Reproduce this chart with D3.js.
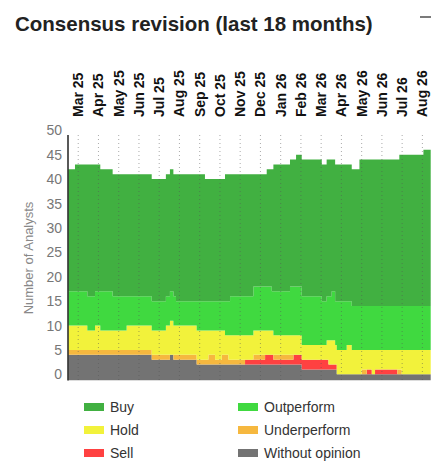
<!DOCTYPE html>
<html><head><meta charset="utf-8">
<script src="https://cdn.jsdelivr.net/npm/d3@7"></script>
<style>body{margin:0;background:#fff}svg{font-family:Arial,"Liberation Sans",sans-serif}</style>
</head><body><svg id="c" width="443" height="475"></svg>
<script>
const months=["Mar 25","Apr 25","May 25","Jun 25","Jul 25","Aug 25","Sep 25","Oct 25","Nov 25","Dec 25","Jan 26","Feb 26","Mar 26","Apr 26","May 26","Jun 26","Jul 26","Aug 26"];
const yTicks=[0,5,10,15,20,25,30,35,40,45,50];
// breakpoints in months since Mar 25 (step changes)
const t=[-0.49,-0.16,0.45,0.83,1.09,1.70,2.39,3.63,4.33,4.53,4.70,4.83,5.85,6.26,6.43,6.76,7.09,7.25,7.42,7.50,8.24,8.65,9.23,9.31,9.56,9.64,10.46,10.63,10.76,11.04,12.03,12.27,12.36,12.52,12.69,12.77,13.26,13.51,13.89,14.00,14.25,14.50,14.66,15.76,15.86,15.98,17.05,17.41];
const withoutOpinion=[4,4,4,4,4,4,4,3,3,4,3,3,2,2,2,2,2,2,2,2,2,2,2,2,2,2,2,2,2,1,1,1,1,1,1,0,0,0,0,0,0,0,0,0,0,0,0,0];
const sell=[0,0,0,0,0,0,0,0,0,0,0,0,0,0,0,0,0,0,0,0,1,1,2,2,2,1,1,2,2,2,2,2,1,1,1,0,0,0,0,0,1,0,1,0,0,0,0,0];
const underperform=[1,1,1,1,1,1,1,1,1,0,1,1,1,1,2,1,2,2,1,1,0,1,0,0,0,1,1,0,0,0,0,0,0,0,0,0,0,0,0,1,0,0,0,1,1,0,0,0];
const hold=[5,5,4,5,4,4,5,5,6,7,6,6,6,6,5,6,5,4,5,5,5,5,5,5,5,4,4,4,4,3,3,4,5,5,4,5,6,5,5,4,4,5,4,4,4,5,5,5];
const outperform=[7,7,7,7,8,7,6,6,6,6,6,5,6,6,6,6,6,7,7,8,8,9,9,9,8,9,10,10,10,10,9,9,9,10,9,10,9,9,9,9,9,9,9,9,9,9,9,9];
const buy=[25,26,27,26,25,25,25,25,25,25,25,26,26,25,25,25,25,26,26,25,25,23,23,24,25,26,26,26,27,28,28,28,28,27,28,28,28,28,30,30,30,30,30,30,31,31,32,32];
const seriesNames=["Without opinion","Sell","Underperform","Hold","Outperform","Buy"];
const seriesVals=[withoutOpinion,sell,underperform,hold,outperform,buy];
const colors=["#737373","#ff4141","#f6b83f","#f2f23b","#40d940","#41b041"];

const svg=d3.select("#c");
const x=d3.scaleLinear().domain([-0.49,17.41]).range([68.3,430.7]);
const y=d3.scaleLinear().domain([-1.2,50]).range([380.2,130.3]);
const rows=t.map((tt,i)=>{const r={t:tt};seriesNames.forEach((n,k)=>r[n]=seriesVals[k][i]);return r;});
const stacked=d3.stack().keys(seriesNames)(rows);
const area2=d3.area().curve(d3.curveStepAfter).x(d=>x(d.data.t)).y0(d=>y(d[0])).y1(d=>y(d[1]));
stacked.forEach((s,k)=>{
  svg.append("path").datum(s).attr("fill",colors[k]).attr("d",k===0?d3.area().curve(d3.curveStepAfter).x(d=>x(d.data.t)).y0(y(-1.2)).y1(d=>y(d[1]))(s):area2(s));
});
months.forEach((m,i)=>{
  svg.append("line").attr("x1",x(i)).attr("x2",x(i)).attr("y1",135).attr("y2",380)
   .attr("stroke","#555").attr("stroke-opacity",0.5).attr("stroke-dasharray","1,3");
  svg.append("text").attr("transform",`translate(${x(i)+5},117) rotate(-90)`)
   .attr("font-size",14).attr("font-weight","bold").attr("fill","#111").text(m);
});
svg.append("line").attr("x1",68).attr("x2",68).attr("y1",135).attr("y2",380.5).attr("stroke","#222").attr("stroke-width",1.5);
yTicks.forEach(v=>svg.append("text").attr("x",62).attr("y",y(v)+5).attr("text-anchor","end").attr("font-size",14).attr("fill","#777").text(v));
svg.append("text").attr("transform","translate(33,258) rotate(-90)").attr("text-anchor","middle").attr("font-size",13).attr("fill","#888").text("Number of Analysts");
svg.append("text").attr("x",15).attr("y",31).attr("font-size",20.5).attr("font-weight","bold").attr("fill","#222").text("Consensus revision (last 18 months)");
svg.append("line").attr("x1",420).attr("x2",431).attr("y1",17).attr("y2",17).attr("stroke","#333").attr("stroke-width",1.3);
const leg=[["Buy",0,0,5],["Outperform",1,0,4],["Hold",0,1,3],["Underperform",1,1,2],["Sell",0,2,1],["Without opinion",1,2,0]];
leg.forEach(([n,c,r,k])=>{
  const lx=c?238:84, ly=403+r*23;
  svg.append("rect").attr("x",lx).attr("y",ly).attr("width",20).attr("height",8).attr("fill",colors[k]);
  svg.append("text").attr("x",lx+26).attr("y",ly+9).attr("font-size",14).attr("fill","#333").text(n);
});
</script></body></html>
